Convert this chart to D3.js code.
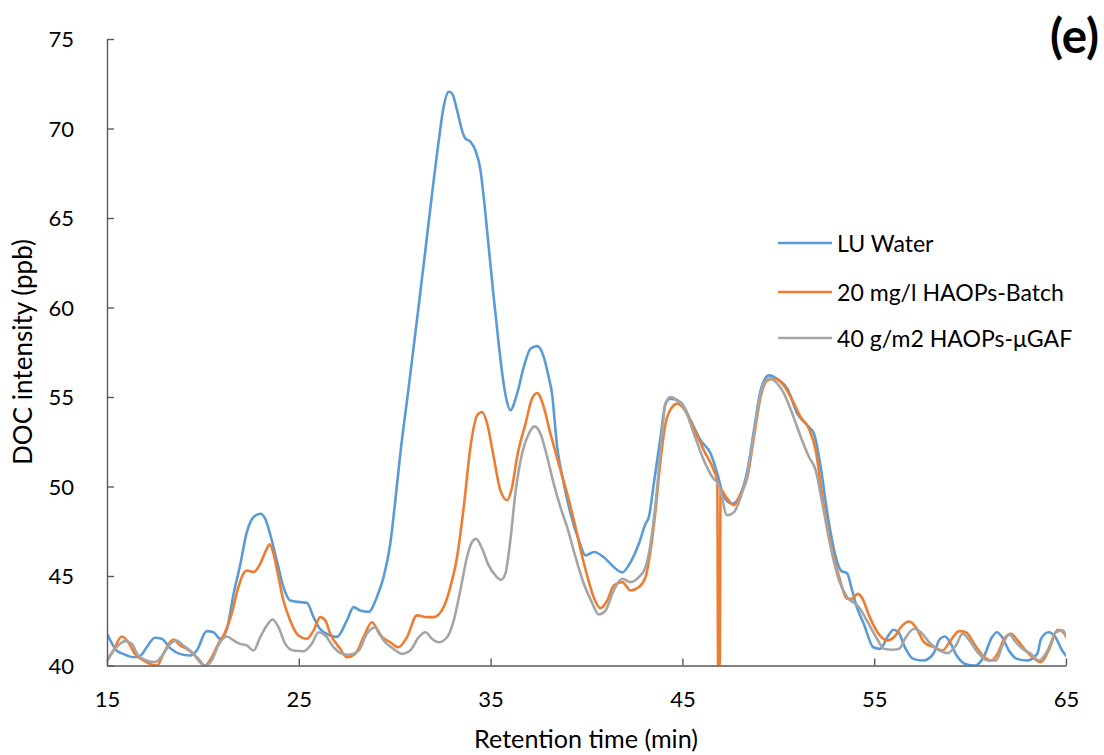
<!DOCTYPE html>
<html>
<head>
<meta charset="utf-8">
<script src="https://cdn.jsdelivr.net/npm/d3@7"></script>
<style>
  html, body { margin: 0; padding: 0; background: #fff; }
  svg { display: block; }
  text { font-family: Lato, "Open Sans", "Noto Sans", sans-serif; fill: #000; }
</style>
</head>
<body>
<svg id="chart" width="1104" height="755"></svg>
<script>
// ---------------- DATA ----------------
const seriesNames = ["LU Water", "20 mg/l HAOPs-Batch", "40 g/m2 HAOPs-\u03BCGAF"];
const xTicks = [15, 25, 35, 45, 55, 65];
const yTicks = [40, 45, 50, 55, 60, 65, 70, 75];

const luTime = [15.0,15.5,15.85,16.4,16.75,17.07,17.5,17.85,18.29,18.8,19.33,19.68,20.2,20.55,20.9,21.25,21.6,21.94,22.29,22.64,22.99,23.25,23.5,23.85,24.2,24.55,25.07,25.42,25.77,26.1,26.64,26.99,27.5,27.86,28.2,28.64,29.07,29.42,29.77,30.0,30.3,30.72,31.16,31.6,31.95,32.3,32.55,32.81,32.99,33.25,33.51,33.68,33.95,34.2,34.47,34.64,34.9,35.16,35.42,35.68,35.8,36.03,36.38,36.73,37.08,37.43,37.77,38.03,38.2,38.47,38.82,39.17,39.6,39.95,40.4,40.9,41.42,41.86,42.3,42.73,43.08,43.25,43.51,43.86,44.12,44.38,44.9,45.43,45.95,46.47,46.82,47.17,47.6,48.04,48.39,48.73,49.08,49.51,50.04,50.47,50.99,51.51,51.86,52.21,52.56,53.0,53.26,53.6,53.8,54.08,54.45,54.95,55.3,55.74,56.0,56.26,56.6,57.04,57.56,58.08,58.43,58.69,58.95,59.3,59.74,60.26,60.7,61.14,61.4,61.67,62.02,62.45,62.97,63.5,63.7,64.1,64.45,64.8,65.0];
const luValue = [41.77,40.84,40.65,40.46,40.55,41.02,41.55,41.5,40.97,40.65,40.56,40.84,41.92,41.86,41.49,42.05,44.0,45.6,47.45,48.29,48.48,48.2,47.36,45.87,44.38,43.63,43.54,43.5,42.7,42.05,41.68,41.6,42.5,43.26,43.07,43.0,43.82,44.94,46.8,48.9,51.9,55.47,59.29,63.2,66.37,69.35,71.2,72.05,71.96,71.03,69.9,69.45,69.26,68.8,67.68,66.18,63.39,60.59,57.99,55.75,55.0,54.26,55.19,56.68,57.7,57.84,57.24,56.1,55.2,52.2,50.16,48.48,46.99,46.15,46.34,46.05,45.5,45.2,45.78,46.8,47.92,48.29,50.16,52.77,54.63,54.91,54.72,53.7,52.58,51.84,50.72,49.41,49.04,49.6,50.9,53.14,55.37,56.21,55.93,55.47,54.07,53.42,52.95,51.09,48.48,46.05,45.31,45.13,44.4,43.3,42.35,41.02,40.93,41.68,42.0,41.86,41.02,40.37,40.28,40.65,41.49,41.62,41.3,40.56,40.09,40.0,40.46,41.58,41.86,41.58,40.84,40.37,40.28,40.65,41.49,41.86,41.58,40.84,40.55];

const batchTime = [15.0,15.33,15.77,16.11,16.46,16.9,17.24,17.6,17.94,18.29,18.46,18.81,19.16,19.5,19.85,20.1,20.46,20.8,21.16,21.5,21.85,22.11,22.29,22.64,22.99,23.33,23.47,23.68,23.94,24.2,24.55,24.98,25.42,25.77,26.12,26.38,26.64,27.16,27.5,27.94,28.38,28.81,29.25,29.77,30.2,30.64,31.16,31.68,32.03,32.55,32.9,33.25,33.6,33.95,34.3,34.56,34.82,35.16,35.51,35.86,36.12,36.38,36.82,37.16,37.43,37.77,38.12,38.55,38.99,39.51,39.75,40.04,40.38,40.73,41.08,41.42,41.86,42.3,42.73,43.08,43.34,43.6,43.86,44.12,44.47,44.73,45.08,45.6,46.12,46.64,46.82,46.86,46.95,46.99,47.34,47.69,48.04,48.39,48.73,49.08,49.43,49.78,50.21,50.65,51.17,51.6,51.95,52.3,52.73,53.17,53.6,53.87,54.13,54.39,54.73,55.17,55.69,56.03,56.47,56.82,57.17,57.6,58.13,58.56,58.99,59.43,59.78,60.21,60.65,61.09,61.43,61.78,62.13,62.48,62.83,63.26,63.69,64.13,64.57,64.92,65.0];
const batchValue = [40.28,40.84,41.62,41.3,40.65,40.28,40.09,40.0,40.65,41.3,41.45,41.12,40.93,40.65,40.19,40.0,40.46,41.21,41.86,42.89,44.38,45.13,45.31,45.22,45.69,46.52,46.77,46.25,44.94,43.63,42.52,41.68,41.49,41.96,42.7,42.52,41.77,40.93,40.46,40.65,41.6,42.42,41.68,41.3,41.02,41.58,42.8,42.7,42.7,43.26,44.38,46.05,48.85,52.2,53.98,54.16,53.51,51.65,49.78,49.23,49.97,51.65,53.51,54.91,55.22,54.44,52.95,51.28,49.6,47.36,46.2,45.0,43.8,43.2,43.63,44.47,44.66,44.19,44.38,44.94,46.43,48.67,51.46,53.51,54.44,54.63,54.35,53.23,52.02,50.9,50.3,40.0,40.0,49.8,49.32,48.95,49.6,50.53,52.77,55.0,55.93,56.03,55.75,55.0,53.88,53.23,52.02,49.41,46.8,44.94,43.73,43.73,44.0,43.73,42.8,41.86,41.4,41.58,42.24,42.46,42.14,41.3,41.02,40.84,41.4,41.92,41.86,41.21,40.56,40.28,40.65,41.49,41.77,41.4,40.93,40.46,40.19,40.93,42.0,41.77,41.6];

const gafTime = [15.0,15.42,15.94,16.29,16.63,17.07,17.5,17.94,18.29,18.63,18.98,19.33,19.77,20.1,20.46,20.8,21.25,21.6,21.94,22.29,22.64,22.99,23.33,23.64,23.94,24.29,24.72,25.25,25.68,26.03,26.38,26.81,27.16,27.6,28.12,28.55,28.99,29.42,29.94,30.38,30.81,31.25,31.6,31.95,32.29,32.73,33.08,33.42,33.77,34.03,34.24,34.56,34.9,35.25,35.55,35.77,36.03,36.29,36.64,36.99,37.29,37.6,37.95,38.29,38.64,38.99,39.43,39.86,40.25,40.64,40.99,41.42,41.86,42.3,42.73,43.08,43.34,43.6,43.86,44.12,44.38,44.73,45.08,45.6,46.12,46.56,46.91,47.34,47.69,48.04,48.39,48.73,49.08,49.51,49.95,50.3,50.73,51.17,51.6,51.95,52.3,52.73,53.17,53.6,54.13,54.3,54.7,55.17,55.51,55.95,56.3,56.65,57.08,57.43,57.87,58.39,58.82,59.26,59.61,59.96,60.39,60.91,61.35,61.69,62.04,62.39,62.74,63.17,63.6,64.04,64.48,64.83,65.0];
const gafValue = [40.28,40.93,41.36,41.21,40.56,40.28,40.19,40.65,41.21,41.4,41.12,40.84,40.37,40.0,40.28,41.12,41.62,41.4,41.21,41.12,40.84,41.58,42.24,42.57,42.14,41.21,40.84,40.8,41.21,41.86,41.68,41.02,40.7,40.6,40.84,41.77,42.14,41.4,40.93,40.65,40.84,41.58,41.86,41.49,41.3,41.58,42.52,44.19,46.05,46.9,47.08,46.52,45.59,45.03,44.79,45.13,46.99,49.6,51.84,52.95,53.36,52.95,51.65,50.16,48.85,47.73,46.05,44.57,43.6,42.85,43.07,44.19,44.85,44.66,44.94,45.5,46.8,49.04,52.02,54.63,55.0,54.82,54.44,52.95,51.46,50.53,50.06,48.39,48.57,49.41,50.72,52.95,55.19,56.03,55.75,55.19,54.07,52.77,51.65,50.9,49.04,46.61,44.75,43.8,43.35,43.1,42.35,41.45,40.93,40.88,40.93,41.58,42.05,41.86,41.3,40.84,40.69,41.12,41.77,41.4,40.75,40.28,40.28,41.12,41.73,41.3,40.93,40.65,40.28,40.84,41.86,41.96,41.7];

const seriesColors = ["#5B9BD5", "#ED7D31", "#A5A5A5"];

// ---------------- CHART ----------------
const svg = d3.select("#chart");
const x = d3.scaleLinear().domain([15, 65]).range([107, 1066]);
const y = d3.scaleLinear().domain([40, 75]).range([665.5, 39]);
const axisColor = "#595959";

svg.append("defs").append("clipPath").attr("id", "plotClip")
  .append("rect").attr("x", x(15)).attr("y", y(75) - 2)
  .attr("width", x(65) - x(15)).attr("height", y(40) - y(75) + 2);

const series = [
  {name: seriesNames[0], t: luTime, v: luValue, color: seriesColors[0]},
  {name: seriesNames[1], t: batchTime, v: batchValue, color: seriesColors[1]},
  {name: seriesNames[2], t: gafTime, v: gafValue, color: seriesColors[2]}
];

const line = d3.line()
  .x(d => x(d[0]))
  .y(d => y(d[1]))
  .curve(d3.curveMonotoneX);

const plotG = svg.append("g").attr("clip-path", "url(#plotClip)");
series.forEach(s => {
  const pts = s.t.map((t, i) => [t, s.v[i]]);
  plotG.append("path")
    .datum(pts)
    .attr("d", line)
    .attr("fill", "none")
    .attr("stroke", s.color)
    .attr("stroke-width", 2.6)
    .attr("stroke-linejoin", "round")
    .attr("stroke-linecap", "round");
});

// Axes
const yAxis = d3.axisLeft(y).tickValues(yTicks).tickSizeInner(-7).tickSizeOuter(0).tickPadding(33);
const yG = svg.append("g").attr("transform", `translate(${x(15)},0)`).call(yAxis);
const xAxis = d3.axisBottom(x).tickValues(xTicks).tickSizeInner(-7).tickSizeOuter(0).tickPadding(26);
const xG = svg.append("g").attr("transform", `translate(0,${y(40)})`).call(xAxis);

[yG, xG].forEach(g => {
  g.select(".domain").attr("stroke", axisColor).attr("stroke-width", 1.4);
  g.selectAll(".tick line").attr("stroke", axisColor).attr("stroke-width", 1.4);
  g.selectAll(".tick text")
    .attr("font-family", "Lato, 'Open Sans', sans-serif")
    .attr("font-size", 22)
    .attr("fill", "#000");
});
yG.selectAll(".tick text").attr("dy", "0.36em");

function fitWidth(sel, target) {
  const n = sel.node();
  const fs = parseFloat(sel.attr("font-size"));
  const w = n.getComputedTextLength();
  sel.attr("font-size", (fs * target / w).toFixed(2));
}

// Axis titles
const xTitle = svg.append("text")
  .attr("x", 586).attr("y", 738)
  .attr("text-anchor", "middle").attr("dominant-baseline", "central")
  .attr("font-size", 21).text("Retention time (min)");
fitWidth(xTitle, 224);

const yTitle = svg.append("text")
  .attr("transform", "translate(22,352) rotate(-90)")
  .attr("text-anchor", "middle").attr("dominant-baseline", "central")
  .attr("font-size", 21).text("DOC intensity (ppb)");
fitWidth(yTitle, 226);

// Legend
const legendY = [243, 292, 338];
const legend = svg.append("g");
series.forEach((s, i) => {
  legend.append("line")
    .attr("x1", 778).attr("x2", 832)
    .attr("y1", legendY[i]).attr("y2", legendY[i])
    .attr("stroke", s.color).attr("stroke-width", 2.6);
});
const legTexts = series.map((s, i) => legend.append("text")
  .attr("x", 837).attr("y", legendY[i])
  .attr("dominant-baseline", "central")
  .attr("font-size", 22).text(s.name));
fitWidth(legTexts[1], 227);
const legFs = legTexts[1].attr("font-size");
legTexts.forEach(t => t.attr("font-size", legFs));

// Panel label
const panel = svg.append("text")
  .attr("x", 1099).attr("y", 34)
  .attr("text-anchor", "end").attr("dominant-baseline", "central")
  .attr("font-weight", "bold").attr("font-size", 36).text("(e)");
fitWidth(panel, 49);
</script>
</body>
</html>
